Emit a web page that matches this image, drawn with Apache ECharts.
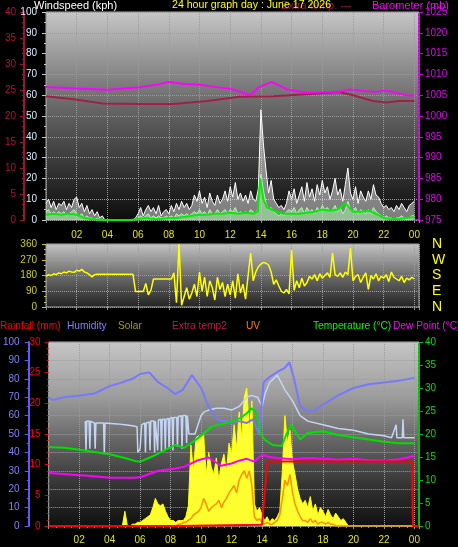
<!DOCTYPE html>
<html><head><meta charset="utf-8">
<script src="https://cdn.jsdelivr.net/npm/echarts@6/dist/echarts.min.js"></script>
<style>html,body{margin:0;padding:0;background:#000;}#c{width:458px;height:547px;}</style>
</head><body><div id="c"></div>
<script>
// ---------- tick labels ----------
const xTickHours = [2,4,6,8,10,12,14,16,18,20,22,24];
const xTickLabels = ['02','04','06','08','10','12','14','16','18','20','22','00'];
const dirTickValues = [0,90,180,270,360];
const dirLetters = ['N','E','S','W','N'];

// ---------- top panel: 10-minute samples (index/6 = hour) ----------
const windGust = [
 8,10,6,9,5,8, 7,9,5,8,6,10, 11,6,8,4,7,3, 5,2,4,1,2,0, 0,0,0,0,0,0, 0,0,0,0,0,1,
 3,6,2,5,7,4, 6,3,7,2,4,5, 3,7,4,8,5,9, 6,8,5,7,12,9, 14,8,11,6,13,9, 7,12,8,10,14,9,
 16,11,18,10,13,9, 12,8,14,10,9,15, 53,36,24,13,19,10, 8,6,7,5,8,14, 10,15,8,12,16,9, 18,11,15,9,17,12,
 19,13,16,10,14,20, 12,15,9,17,25,13, 10,16,8,14,11,9, 14,10,17,12,11,8, 6,7,5,6,4,7, 5,8,6,4,7,8, 9];
const windSpeed = [
 4,5,3,4,3,4, 3,4,2,3,4,5, 3,2,3,1,2,1, 1,0,1,0,0,0, 0,0,0,0,0,0, 0,0,0,0,0,0,
 1,2,1,2,3,1, 2,1,2,1,1,2, 1,2,1,3,2,3, 2,3,2,3,4,3, 5,3,4,2,5,3, 3,5,3,4,5,3,
 5,4,6,3,4,3, 4,3,5,4,3,6, 22,14,8,5,6,4, 3,2,3,2,4,5, 4,6,3,5,6,3, 6,4,5,3,6,4,
 7,5,6,4,5,7, 4,6,3,5,9,5, 4,6,3,5,4,3, 5,3,6,4,3,2, 1,2,1,1,0,1, 1,2,1,0,1,2, 2];
const windAvgHours = [0,0.5,1,1.5,2,2.5,3,3.5,4,5,5.5,6,6.5,7,7.5,8,8.5,9,9.5,10,10.5,11,11.5,12,12.5,13,13.5,13.8,13.95,14.15,14.4,15,15.5,16,16.5,17,17.5,18,18.5,19,19.5,20,20.5,21,21.5,22,22.5,23,23.5,24];
const windAvgValues = [2.5,3,2.5,3,2.5,1,0.5,0,0,0,0,0.5,1,0.5,0.5,1,1,1.5,2,2.5,2.5,3,3,3.5,3,3.5,3,4,20,10,6,4,3,3,3,3.5,4,5,4.5,5,8,4,4,4.5,3,1,0.5,0.5,1,1.5];
const extraTempHours = [0,1.8,3.7,6.1,8.3,10.5,12.6,14.8,17,19.1,20,21.3,22.2,23,24];
const extraTempValues = [23.8,23.2,22.4,22.3,22.3,22.9,23.7,23.8,24.2,24.6,24.0,22.9,22.6,22.9,22.9];
const baroHours = [0,2,4,6.1,7.3,8,9,10,11,12.2,13.3,13.9,14.7,15.7,17,18,19.1,19.8,20.5,21.3,22.2,23.5,24];
const baroValues = [1007.0,1006.6,1006.3,1006.9,1007.6,1008.2,1007.7,1007.5,1007.0,1006.4,1005.0,1007.0,1008.2,1006.4,1005.6,1005.7,1005.8,1006.4,1006.1,1005.8,1006.1,1005.0,1004.9];

// ---------- middle panel: wind direction, 10-minute samples ----------
const windDir = [
 175,185,180,190,185,195, 190,200,195,205,200,198, 210,205,215,200,195,185, 172,185,187,187,187,187,
 187,187,187,187,187,187, 187,187,187,187,187,88, 88,90,88,135,70,95, 160,160,160,160,160,160,
 160,160,195,25,360,10, 60,110,45,80,130,60, 200,90,170,60,150,110, 40,170,100,140,60,130,
 70,150,50,190,80,130, 45,180,308,150,200,230, 245,255,250,240,200,130, 155,120,90,80,100,75,
 326,95,150,110,165,120, 140,175,160,185,150,190, 165,180,195,170,308,185, 175,195,170,200,185,337,
 150,175,185,140,170,195, 100,180,160,190,150,175, 165,185,145,200,170,160, 150,175,140,165,155,170, 160];

// ---------- bottom panel ----------
const solar = [
 0,0,0,0,0,0, 0,0,0,0,0,0, 0,0,0,0,0,0, 0,0,0,0,0,0, 0,0,0,0,0,0,
 8,0,0,1,1,2, 2,3,4,5,6,10, 15,12,11,12,8,5, 3,3,2,3,3,3, 5,11,44,30,48,49,
 48,50,28,40,32,28, 37,25,34,39,30,45, 39,55,42,62,48,70, 75,52,68,12,8,10, 6,3,5,2,4,3,
 5,8,30,60,45,52, 35,28,20,15,12,14, 10,16,8,12,6,10, 8,5,9,6,4,7, 5,3,4,2,0,0,
 0,0,0,0,0,0, 0,0,0,0,0,0, 0,0,0,0,0,0, 0,0,0,0,0,0, 0];
const uv = [
 0,0,0,0,0,0, 0,0,0,0,0,0, 0,0,0,0,0,0, 0,0,0,0,0,0, 0,0,0,0,0,0, 0,0,0,0,0,0, 0,0,0,0,0,0, 0,0,0,0,0,0,
 0,0,0,1,1,2, 2,3,4,6,7,8, 10,15,12,8,10,11, 12,14,10,13,15,18, 20,22,18,25,28,30, 26,30,22,5,3,4,
 2,1,2,1,1,2, 3,6,15,25,22,28, 18,12,8,5,3,3, 2,4,2,3,1,2, 2,1,2,1,1,0,
 0,0,0,0,0,0, 0,0,0,0,0,0, 0,0,0,0,0,0, 0,0,0,0,0,0, 0,0,0,0,0,0, 0];
const humHours = [0,0.3,1,1.8,3,4,4.8,5.5,6,6.6,7.2,7.8,8.3,8.8,9.4,10,10.5,11.1,12,12.5,13,13.4,13.8,14.1,14.5,15,15.5,15.8,16.1,16.5,17,17.5,18,19,20,21,22,23,24];
const humValues = [69.6,68.5,70,70.7,72,76,78,80,82.6,83.5,78,75,71.7,74,82,75,64.7,57.6,56.5,57,56,58,50,78,81,83.7,86,89,80,65,62,63,66,71,75,77,78,79,80.5];
const paleHumHours = [2.4,2.45,2.5,2.65,2.7,2.75,3.0,3.05,3.1,3.6,3.65,3.7,4.5,5.0,5.5,5.8,5.85,5.9,6.0,6.1,6.3,6.35,6.4,6.6,6.65,6.7,6.9,6.95,7.0,7.1,7.15,7.2,7.35,7.4,7.45,7.6,7.65,7.7,7.85,7.9,7.95,8.1,8.15,8.2,8.4,8.45,8.5,8.7,8.75,8.8,9.0,9.05,9.1,9.2,9.6,9.8,10.0,10.2,10.5,11.0,11.5,12.0,12.5,13.0,13.3,13.7,14.0,14.2,14.5,15.0,15.5,16.0,16.5,17.0,18.0,19.0,20.0,21.0,22.0,22.5,22.8,22.85,23.2,23.25,23.3,24.0];
const paleHumValues = [57,41,57,57,42,57,56,42,56,56,40,56,55.5,55,54.5,54,40,40,42,55,56,40,56,56.5,41,57,57,40,57,57.5,41,57.5,58,40,58,58,41,58,58.5,42,58.5,59,41,59,59,43,59.5,60,42,60,60,45,60,50,50,55,60,62,63,64,64,63,65,70,71,70,65,72,78,82,74,68,60,57,55,53,52,50,49,48,55,48,48,58,48,48];
const tempHours = [0,1,1.8,3,4,5,5.7,6,6.8,7.5,8.3,8.9,9.8,10.7,12,12.6,13,13.3,13.6,13.9,14.2,14.7,15.3,15.6,15.9,16.2,16.5,17,18,19,20,21,22,23,24];
const tempValues = [17.2,17.0,16.7,16.1,15.6,14.8,14.1,14.0,15.1,16.3,17.6,17.0,19.1,21.6,22.7,23.5,24.5,25.6,24.8,20,18.7,17.6,17.4,20,22,20.5,18.8,20.2,20.6,19.8,19.3,18.8,18.3,18.0,18.0];
const dewHours = [0,1,1.8,3,4,5,5.7,6.1,7.2,8.3,8.9,9.8,10.5,11.3,12,12.5,13,13.5,14,14.5,15,16,17,18,19,20,21,22,23,24];
const dewValues = [11.5,11.3,11.1,10.8,10.5,10.5,10.5,10.7,12.0,12.5,12.9,14.3,14.9,13.1,13.6,14.2,14.6,14.0,15.5,15.0,14.8,14.5,14.8,14.6,14.4,14.6,14.3,14.2,14.5,15.2];
const rainHours = [0,8.5,8.55,14.0,14.35,23.85,23.9,24.3];
const rainValues = [0,0,0.2,0.2,10.5,10.5,0,0];

// ---------- build ----------
const every10 = arr => arr.map((v,i)=>[i/6, v]);
const zipXY = (xs, ys) => xs.map((x,i)=>[x, ys[i]]);
const FONT = 'Liberation Sans, Arial, sans-serif';
const plain = v => String(v);

function grad(stops){
  return {type:'linear',x:0,y:0,x2:0,y2:1,colorStops:stops.map(s=>({offset:s[0],color:s[1]}))};
}
function xLabel(v){
  const i = xTickHours.indexOf(Math.round(v*1000)/1000);
  return i>=0 ? xTickLabels[i] : '';
}
const gridLine = {show:true, lineStyle:{color:'#9c9c9c', type:'dotted', width:1}};
function xAxisCfg(gi, showLabel, margin){
  return {gridIndex:gi, type:'value', min:0, max:24.3, interval:2,
    axisLine:{show:false},
    axisTick:{show:true, length:3, lineStyle:{color:'#909090'}},
    minorTick:{show:gi===2, splitNumber:4, length:2, lineStyle:{color:'#909090'}},
    axisLabel:{show:showLabel, color:'#e6e600', fontSize:10, fontFamily:FONT, margin:margin, formatter:xLabel},
    splitLine:gridLine};
}
const chart = echarts.init(document.getElementById('c'), null, {renderer:'canvas'});
const LF = '10.2px ' + FONT;
const option = {
  backgroundColor:'#000000',
  animation:false,
  grid:[
    {left:46, top:12, width:373, height:208, show:true, borderColor:'#a8a8a8', borderWidth:1,
     backgroundColor:grad([[0,'#c6c6c6'],[0.35,'#7c7c7c'],[0.55,'#565656'],[0.8,'#2c2c2c'],[1,'#0c0c0c']])},
    {left:46, top:244, width:373, height:63, show:true, borderColor:'#a8a8a8', borderWidth:1,
     backgroundColor:grad([[0,'#c4c4c4'],[0.5,'#6c6c6c'],[1,'#222222']])},
    {left:46, top:342, width:373, height:184, show:true, borderColor:'#a8a8a8', borderWidth:1,
     backgroundColor:grad([[0,'#c6c6c6'],[0.3,'#9c9c9c'],[0.55,'#626262'],[0.8,'#303030'],[1,'#101010']])}
  ],
  xAxis:[ xAxisCfg(0,true,10), xAxisCfg(1,false,8), xAxisCfg(2,true,9) ],
  yAxis:[
    {gridIndex:0, type:'value', min:0, max:100, interval:10, position:'left',
     axisLine:{show:false}, axisTick:{show:true,length:4,lineStyle:{color:'#c8c8c8'}},
     minorTick:{show:true,splitNumber:2,length:2,lineStyle:{color:'#c8c8c8'}},
     axisLabel:{color:'#d8ecff', fontSize:10, fontFamily:FONT, margin:9, formatter:plain},
     splitLine:gridLine},
    {gridIndex:0, type:'value', min:975, max:1025, interval:5, position:'right',
     axisLine:{show:true, lineStyle:{color:'#d000e0', type:'dotted', width:2}},
     axisTick:{show:true,length:4,lineStyle:{color:'#d000e0'}},
     axisLabel:{color:'#e000f0', fontSize:10, fontFamily:FONT, margin:6, formatter:plain},
     splitLine:{show:false}},
    {gridIndex:0, type:'value', min:0, max:40, interval:5, position:'left', offset:22,
     axisLine:{show:true, lineStyle:{color:'#a0103c', width:2}},
     axisTick:{show:true,length:4,lineStyle:{color:'#a0103c'}},
     minorTick:{show:true,splitNumber:5,length:2,lineStyle:{color:'#a0103c'}},
     axisLabel:{color:'#b01040', fontSize:10, fontFamily:FONT, margin:8, formatter:plain},
     splitLine:{show:false}},
    {gridIndex:1, type:'value', min:0, max:360, interval:90, position:'left',
     axisLine:{show:false}, axisTick:{show:true,length:4,lineStyle:{color:'#c8c800'}},
     minorTick:{show:true,splitNumber:3,length:2,lineStyle:{color:'#c8c800'}},
     axisLabel:{color:'#d0d000', fontSize:10, fontFamily:FONT, margin:9, formatter:plain},
     splitLine:gridLine},
    {gridIndex:1, type:'value', min:0, max:360, interval:90, position:'right',
     axisLine:{show:false}, axisTick:{show:false},
     axisLabel:{color:'#ffff00', fontSize:14, fontFamily:FONT, margin:13,
       formatter:v=>{const i=dirTickValues.indexOf(v); return i>=0?dirLetters[i]:'';}},
     splitLine:{show:false}},
    {gridIndex:2, type:'value', min:0, max:30, interval:5, position:'left',
     axisLine:{show:false}, axisTick:{show:true,length:4,lineStyle:{color:'#e00000'}},
     minorTick:{show:true,splitNumber:5,length:2,lineStyle:{color:'#e00000'}},
     axisLabel:{color:'#ff0000', fontSize:10, fontFamily:FONT, margin:8, formatter:plain},
     splitLine:{show:false}},
    {gridIndex:2, type:'value', min:0, max:100, interval:10, position:'left', offset:20,
     axisLine:{show:true, lineStyle:{color:'#5a5aff', width:2}},
     axisTick:{show:true,length:4,lineStyle:{color:'#5a5aff'}},
     minorTick:{show:true,splitNumber:2,length:2,lineStyle:{color:'#5a5aff'}},
     axisLabel:{color:'#8080ff', fontSize:10, fontFamily:FONT, margin:9, formatter:plain},
     splitLine:gridLine},
    {gridIndex:2, type:'value', min:0, max:40, interval:5, position:'right',
     axisLine:{show:true, lineStyle:{color:'#00c000', type:'dotted', width:2}},
     axisTick:{show:true,length:4,lineStyle:{color:'#00c000'}},
     axisLabel:{color:'#00e000', fontSize:10, fontFamily:FONT, margin:6, formatter:plain},
     splitLine:{show:false}}
  ],
  series:[
    {type:'line', xAxisIndex:0, yAxisIndex:0, data:every10(windGust), showSymbol:false,
     lineStyle:{color:'#ffffff', width:1}, areaStyle:{color:'rgba(235,235,235,0.72)'}},
    {type:'line', xAxisIndex:0, yAxisIndex:0, data:every10(windSpeed), showSymbol:false,
     lineStyle:{color:'#b8f0b8', width:1}, areaStyle:{color:'#a0dca0'}},
    {type:'line', xAxisIndex:0, yAxisIndex:0, data:zipXY(windAvgHours, windAvgValues), showSymbol:false,
     lineStyle:{color:'#00ee00', width:2}},
    {type:'line', xAxisIndex:0, yAxisIndex:2, data:zipXY(extraTempHours, extraTempValues), showSymbol:false,
     lineStyle:{color:'#a0204a', width:2}},
    {type:'line', xAxisIndex:0, yAxisIndex:1, data:zipXY(baroHours, baroValues), showSymbol:false,
     lineStyle:{color:'#ff00ff', width:2}},
    {type:'line', xAxisIndex:1, yAxisIndex:3, data:every10(windDir), showSymbol:false,
     lineStyle:{color:'#ffff00', width:1.5}},
    {type:'line', xAxisIndex:2, yAxisIndex:6, data:every10(solar), showSymbol:false,
     lineStyle:{color:'#ffff00', width:1}, areaStyle:{color:'#ffff30', opacity:1}},
    {type:'line', xAxisIndex:2, yAxisIndex:6, data:every10(uv), showSymbol:false,
     lineStyle:{color:'#ff9000', width:1.5}},
    {type:'line', xAxisIndex:2, yAxisIndex:6, data:zipXY(paleHumHours, paleHumValues), showSymbol:false,
     lineStyle:{color:'#c4d4f4', width:1.5}},
    {type:'line', xAxisIndex:2, yAxisIndex:6, data:zipXY(humHours, humValues), showSymbol:false,
     lineStyle:{color:'#7878ff', width:2}},
    {type:'line', xAxisIndex:2, yAxisIndex:7, data:zipXY(tempHours, tempValues), showSymbol:false,
     lineStyle:{color:'#00e000', width:2}},
    {type:'line', xAxisIndex:2, yAxisIndex:7, data:zipXY(dewHours, dewValues), showSymbol:false,
     lineStyle:{color:'#ff00ff', width:2}},
    {type:'line', xAxisIndex:2, yAxisIndex:5, data:zipXY(rainHours, rainValues), showSymbol:false,
     lineStyle:{color:'#ff0000', width:2}}
  ],
  graphic:[
    {type:'text', left:34, top:0, style:{text:'Windspeed (kph)', fill:'#ffffff', font:'11px '+FONT}},
    {type:'text', left:281, top:0, style:{text:'Extra temp. ---', fill:'#a01040', font:'11px '+FONT}},
    {type:'text', left:172, top:0, style:{text:'24 hour graph day : June 17 2026', fill:'#ffff00', font:'10.6px '+FONT}},
    {type:'text', left:372, top:0, style:{text:'Barometer (mb)', fill:'#ff00ff', font:'11px '+FONT}},
    {type:'text', left:0, top:321, style:{text:'Rainfall (mm)', fill:'#ff0000', font:LF}},
    {type:'text', left:67, top:321, style:{text:'Humidity', fill:'#8080ff', font:LF}},
    {type:'text', left:118, top:321, style:{text:'Solar', fill:'#a0a000', font:LF}},
    {type:'text', left:172, top:321, style:{text:'Extra temp2', fill:'#c01850', font:LF}},
    {type:'text', left:246, top:321, style:{text:'UV', fill:'#ff8000', font:LF}},
    {type:'text', left:313, top:321, style:{text:'Temperature (°C)', fill:'#00ff00', font:LF}},
    {type:'text', left:393, top:321, style:{text:'Dew Point (°C)', fill:'#ff00ff', font:LF}}
  ]
};
chart.setOption(option);
</script>
</body></html>
